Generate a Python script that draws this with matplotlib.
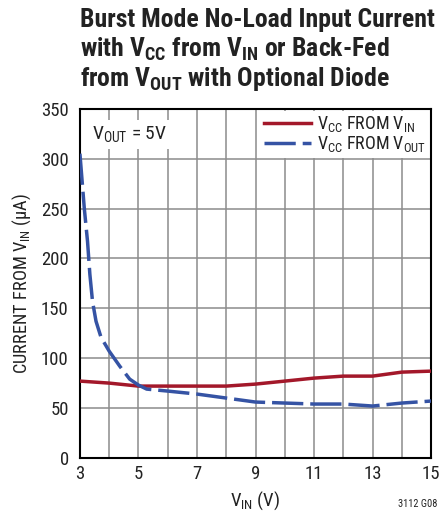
import matplotlib
matplotlib.use("Agg")
import matplotlib.pyplot as plt
from matplotlib import font_manager

# pick a condensed face if there is one
names = {f.name for f in font_manager.fontManager.ttflist}
cond = 'Roboto'
for cand in ['Liberation Sans Narrow', 'Roboto Condensed', 'Noto Sans Condensed',
             'Open Sans Condensed', 'Arial Narrow']:
    if cand in names:
        cond = cand
        break
plt.rcParams['font.family'] = [cond, 'DejaVu Sans']
plt.rcParams['mathtext.fontset'] = 'custom'
plt.rcParams['mathtext.rm'] = cond
plt.rcParams['mathtext.it'] = cond
plt.rcParams['mathtext.bf'] = cond + ':bold'

# data
vin = [3, 4, 5, 6, 7, 8, 9, 10, 11, 12, 13, 14, 15]
i_from_vin = [77, 75, 72, 72, 72, 72, 74, 77, 80, 82, 82, 86, 87]

vin_b = [3, 3.15, 3.26, 3.34, 3.43, 3.55, 3.72, 4, 4.36, 4.7, 5, 5.28, 6,
         7, 8, 9, 10, 11, 12, 13, 14, 15]
i_from_vout = [305, 250, 217, 184, 157, 137, 121, 107, 92, 79, 73, 69, 67,
               64, 60, 56, 55, 54, 54, 52, 55, 57]

RED = '#a3182a'
BLUE = '#3553a4'
INK = '#222222'

fig = plt.figure(figsize=(4.44, 5.18), dpi=100)
ax = fig.add_axes([0.180, 0.116, 0.791, 0.674])

ax.plot(vin, i_from_vin, color=RED, lw=2.5, label=r'$\mathrm{V_{CC}}$ FROM $\mathrm{V_{IN}}$', zorder=3)
ax.plot(vin_b, i_from_vout, color=BLUE, lw=2.5, dashes=(9, 2), label=r'$\mathrm{V_{CC}}$ FROM $\mathrm{V_{OUT}}$', zorder=3)

ax.set_xlim(3, 15)
ax.set_ylim(0, 350)
ax.set_xticks(range(3, 16, 2))
ax.set_xticks(range(3, 16), minor=True)
ax.set_yticks(range(0, 351, 50))
ax.grid(True, which='both', color='#8c8c8c', lw=1.1)
ax.tick_params(which='both', length=0, labelsize=13.5, pad=8, labelcolor=INK)
ax.tick_params(axis='x', pad=5)
for s in ax.spines.values():
    s.set_linewidth(1.5)

ax.set_xlabel(r'$\mathrm{V_{IN}}$ (V)', fontsize=13.5, labelpad=5, color=INK)
ax.set_ylabel(r'CURRENT FROM $\mathrm{V_{IN}}$ (µA)', fontsize=13.2, labelpad=6, color=INK)

ax.text(0.035, 0.955, r'$\mathrm{V_{OUT}}$ = 5V', transform=ax.transAxes, fontsize=14,
        ha='left', va='top', zorder=4, color=INK,
        bbox=dict(facecolor='white', edgecolor='none', pad=3))

leg = ax.legend(loc='upper right', fontsize=13, frameon=True, fancybox=False,
                framealpha=1, edgecolor='none', borderaxespad=0.1,
                handlelength=2.6, handletextpad=0.3, labelspacing=0.0,
                borderpad=0.2)
for t in leg.get_texts():
    t.set_color(INK)

fig.text(0.180, 0.985, 'Burst Mode No-Load Input Current', fontsize=18.5, fontweight='bold', va='top', color=INK)
fig.text(0.180, 0.930, r'with $\mathbf{V_{CC}}$ from $\mathbf{V_{IN}}$ or Back-Fed', fontsize=18.5, fontweight='bold', va='top', color=INK)
fig.text(0.180, 0.875, r'from $\mathbf{V_{OUT}}$ with Optional Diode', fontsize=18.5, fontweight='bold', va='top', color=INK)

fig.text(0.985, 0.018, '3112 G08', fontsize=7.5, ha='right', va='bottom', color=INK)

fig.savefig('out.png', dpi=100)
